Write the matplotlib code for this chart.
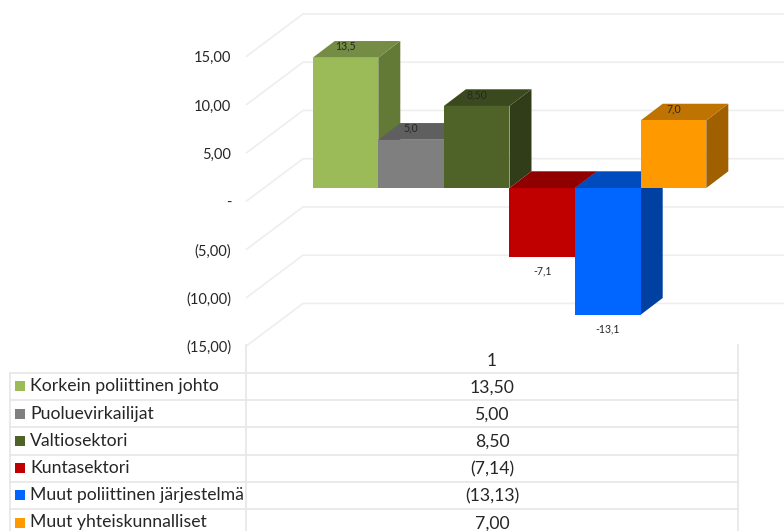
import matplotlib
matplotlib.use("Agg")
import matplotlib.pyplot as plt
from matplotlib.patches import Polygon, Rectangle

plt.rcParams["font.family"] = ["Lato", "DejaVu Sans"]

categories = ["Korkein poliittinen johto", "Puoluevirkailijat", "Valtiosektori",
              "Kuntasektori", "Muut poliittinen järjestelmä", "Muut yhteiskunnalliset"]
values = [13.50, 5.00, 8.50, -7.14, -13.13, 7.00]
bar_labels = ["13,5", "5,0", "8,50", "-7,1", "-13,1", "7,0"]
table_labels = ["13,50", "5,00", "8,50", "(7,14)", "(13,13)", "7,00"]
axis_values = [15, 10, 5, 0, -5, -10, -15]
axis_labels = ["15,00", "10,00", "5,00", "-", "(5,00)", "(10,00)", "(15,00)"]
front_colors = ["#9BBB59", "#7F7F7F", "#4F6228", "#C00000", "#0066FF", "#FF9900"]
top_colors = ["#748C43", "#5F5F5F", "#3B4A1E", "#900000", "#004CBF", "#BF7300"]
side_colors = ["#627A35", "#505050", "#303D18", "#780000", "#0040A0", "#A06000"]

W, H = 784, 531
X0, BAR_W = 312.7, 65.6       # left edge of the first bar, bar width
Y0, UNIT = 188.0, 9.65        # baseline of the bars, pixels per value unit
DEPTH_X = 22.0 / BAR_W        # bar depth in x data units
DEPTH_Y = 16.7 / UNIT         # bar depth in y data units
GRID = "#EEEEEE"
TABLE = "#E6E6E6"
TEXT = "#262626"

fig = plt.figure(figsize=(W / 100, H / 100), dpi=100, facecolor="white")

# Chart axes: x counts bar widths, y is in value units
ax = fig.add_axes([0, 0, 1, 1])
ax.set_xlim(-X0 / BAR_W, (W - X0) / BAR_W)
ax.set_ylim((Y0 - H) / UNIT, Y0 / UNIT)
ax.axis("off")

# Table axes: pixel coordinates, origin at the top left
tb = fig.add_axes([0, 0, 1, 1], zorder=3)
tb.set_xlim(0, W)
tb.set_ylim(H, 0)
tb.axis("off")

# Floor and wall gridlines of the 3D frame
fx, bx = (246.6 - X0) / BAR_W, (303 - X0) / BAR_W
rx = (W - X0) / BAR_W
front_off, back_off = (Y0 - 201.0) / UNIT, (Y0 - 158.7) / UNIT
for v in axis_values:
    ax.plot([fx, bx, rx], [v + front_off, v + back_off, v + back_off],
            color=GRID, lw=1.2, solid_joinstyle="round", zorder=1)

# Bars: each one is a front face, a side face and a top face
for i, v in enumerate(values):
    hi = max(v, 0)
    lo = min(v, 0)
    ax.add_patch(Polygon([(i + 1, lo), (i + 1 + DEPTH_X, lo + DEPTH_Y),
                          (i + 1 + DEPTH_X, hi + DEPTH_Y), (i + 1, hi)],
                         closed=True, fc=side_colors[i], ec="none", zorder=2 + i))
    ax.add_patch(Polygon([(i, hi), (i + DEPTH_X, hi + DEPTH_Y),
                          (i + 1 + DEPTH_X, hi + DEPTH_Y), (i + 1, hi)],
                         closed=True, fc=top_colors[i], ec="none", zorder=2 + i))
    ax.add_patch(Rectangle((i, lo), 1, hi - lo, fc=front_colors[i], ec="none", zorder=2 + i))
    if v >= 0:
        y_label = v + 11.5 / UNIT
    else:
        y_label = v - 14.5 / UNIT
    ax.text(i + 0.5, y_label, bar_labels[i], ha="center", va="center",
            fontsize=7.6, color=TEXT, zorder=20)

# Value axis labels
for v, lab in zip(axis_values, axis_labels):
    ax.text((231.5 - X0) / BAR_W, v + (Y0 - 203) / UNIT, lab, ha="right", va="center",
            fontsize=10.5, color=TEXT, zorder=20)

# Data table beneath the chart
row_edges = [372.7, 400, 427, 454.5, 481.5, 509]
for y in row_edges:
    tb.plot([10, 738], [y, y], color=TABLE, lw=1.2)
tb.plot([10, 10], [372.7, H], color=TABLE, lw=1.2)
tb.plot([246.5, 246.5], [345, H], color=TABLE, lw=1.2)
tb.plot([738, 738], [345, H], color=TABLE, lw=1.2)
tb.text(492, 361.5, "1", ha="center", va="center", fontsize=12.5, color=TEXT)
for y, name, text, col in zip(row_edges, categories, table_labels, front_colors):
    cy = y + 13.5
    tb.add_patch(Rectangle((15, cy - 5), 10, 10, fc=col, ec="none"))
    tb.text(30, cy, name, ha="left", va="center", fontsize=12.7, color=TEXT, clip_on=False)
    tb.text(492, cy + 1, text, ha="center", va="center", fontsize=12.7, color=TEXT)

fig.savefig("out.png", dpi=100, facecolor="white")
